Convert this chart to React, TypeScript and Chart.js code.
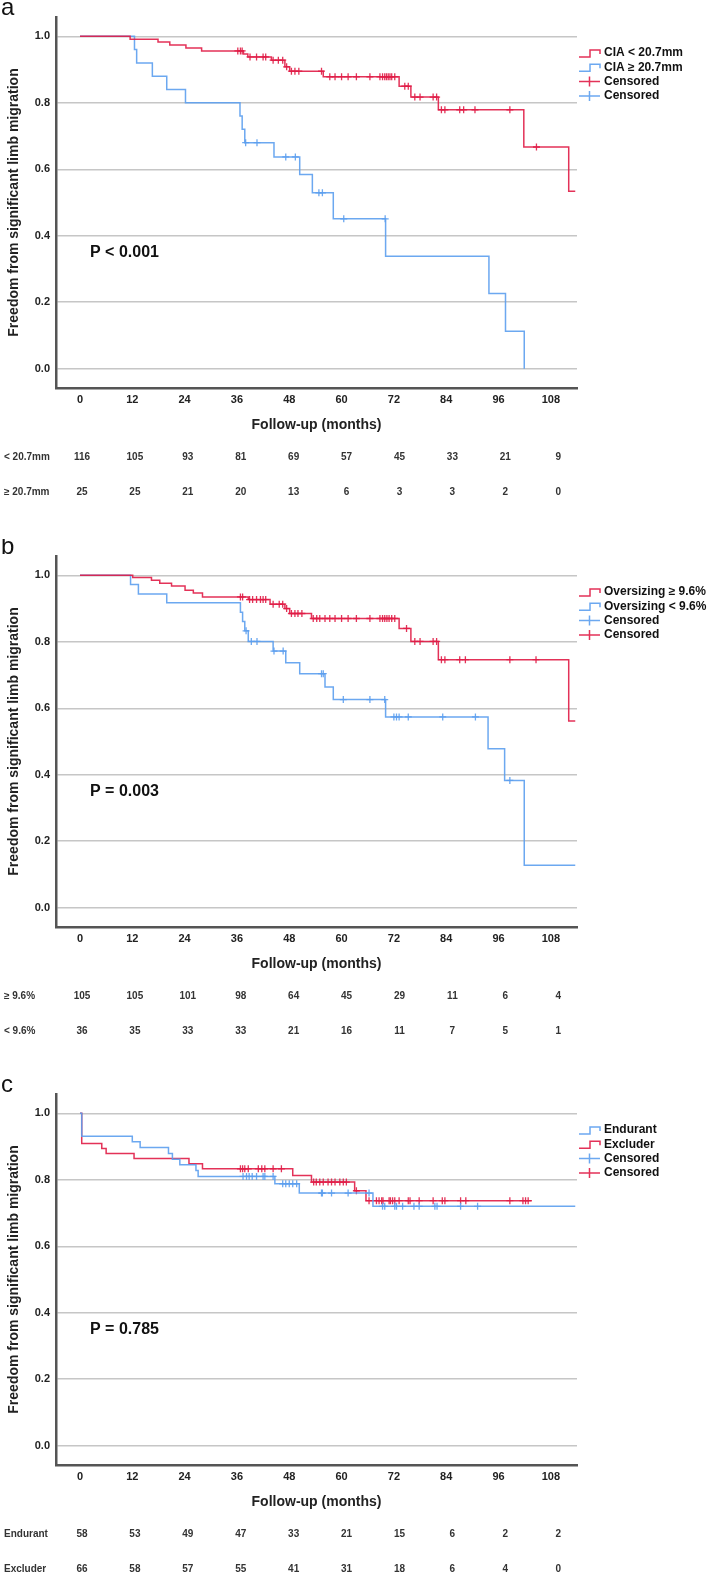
import React, { useEffect, useRef } from "react";
import { Chart, registerables } from "chart.js";

Chart.register(...registerables);

const FONT = "'Liberation Sans', Arial, Helvetica, sans-serif";
const RED = "rgba(224, 28, 70, 0.9)";
const BLUE = "rgba(92, 158, 238, 0.9)";

const xTicks = [0, 12, 24, 36, 48, 60, 72, 84, 96, 108];
const yTicks = [0, 0.2, 0.4, 0.6, 0.8, 1.0];
const xTitle = "Follow-up (months)";
const yTitle = "Freedom from significant limb migration";

// ---------- Panel a ----------
const aLabels = ["CIA < 20.7mm", "CIA \u2265 20.7mm"];
const aRiskLabels = ["< 20.7mm", "\u2265 20.7mm"];
const aRiskRed = [116, 105, 93, 81, 69, 57, 45, 33, 21, 9];
const aRiskBlue = [25, 25, 21, 20, 13, 6, 3, 3, 2, 0];
const aRedSteps: [number, number][] = [
  [0, 1], [11.5, 0.991], [17.9, 0.983], [20.6, 0.974], [24.3, 0.965], [27.9, 0.956],
  [37.5, 0.947], [38.5, 0.938], [43.9, 0.928], [47.0, 0.908], [48.1, 0.895], [55.8, 0.878],
  [73.2, 0.85], [75.9, 0.817], [82.2, 0.779], [101.8, 0.667], [112.1, 0.534], [113.6, 0.534],
];
const aRedCensored: [number, number][] = [
  [36.2, 0.956], [36.8, 0.956], [37.2, 0.956],
  [39.0, 0.938], [40.5, 0.938], [42.0, 0.938], [42.6, 0.938],
  [44.3, 0.928], [45.5, 0.928], [46.5, 0.928], [47.4, 0.908],
  [48.5, 0.895], [49.3, 0.895], [50.2, 0.895], [55.4, 0.895],
  [57.3, 0.878], [58.5, 0.878], [60.0, 0.878], [61.5, 0.878], [63.4, 0.878], [66.5, 0.878],
  [68.8, 0.878], [69.4, 0.878], [69.9, 0.878], [70.3, 0.878], [70.7, 0.878], [71.1, 0.878],
  [71.5, 0.878], [72.2, 0.878],
  [74.5, 0.85], [75.3, 0.85],
  [76.8, 0.817], [78.0, 0.817], [81.0, 0.817], [81.8, 0.817],
  [82.9, 0.779], [83.7, 0.779], [87.1, 0.779], [88.0, 0.779], [90.6, 0.779], [98.6, 0.779],
  [104.7, 0.667],
];
const aBlueSteps: [number, number][] = [
  [0, 1], [12.5, 0.96], [13.0, 0.92], [16.6, 0.88], [19.9, 0.84], [24.2, 0.8],
  [36.7, 0.76], [37.2, 0.72], [37.8, 0.68], [44.5, 0.637], [50.4, 0.584], [53.3, 0.529],
  [58.1, 0.451], [70.1, 0.338], [93.8, 0.226], [97.6, 0.113], [101.9, 0.0],
];
const aBlueCensored: [number, number][] = [
  [38.0, 0.68], [40.6, 0.68], [47.2, 0.637], [49.4, 0.637], [54.8, 0.529], [55.6, 0.529],
  [60.5, 0.451], [70.0, 0.451],
];

// ---------- Panel b ----------
const bLabels = ["Oversizing \u2265 9.6%", "Oversizing < 9.6%"];
const bRiskLabels = ["\u2265 9.6%", "< 9.6%"];
const bRiskRed = [105, 105, 101, 98, 64, 45, 29, 11, 6, 4];
const bRiskBlue = [36, 35, 33, 33, 21, 16, 11, 7, 5, 1];
const bRedSteps: [number, number][] = [
  [0, 1], [12.1, 0.993], [16.4, 0.985], [18.3, 0.976], [21.0, 0.968], [24.1, 0.955],
  [26.0, 0.947], [28.1, 0.935], [38.6, 0.927], [43.6, 0.913], [47.0, 0.9], [48.1, 0.885],
  [53.1, 0.87], [73.2, 0.84], [75.9, 0.801], [82.2, 0.746], [112.1, 0.562], [113.6, 0.562],
];
const bRedCensored: [number, number][] = [
  [36.8, 0.935], [37.3, 0.935],
  [38.9, 0.927], [39.6, 0.927], [40.5, 0.927], [41.4, 0.927], [42.0, 0.927], [42.6, 0.927],
  [44.3, 0.913], [45.7, 0.913], [46.5, 0.913], [47.4, 0.9],
  [48.5, 0.885], [49.3, 0.885], [50.0, 0.885], [50.9, 0.885],
  [53.5, 0.87], [54.3, 0.87], [55.0, 0.87], [56.2, 0.87], [57.3, 0.87], [58.5, 0.87],
  [60.0, 0.87], [61.5, 0.87], [63.4, 0.87], [66.5, 0.87], [68.8, 0.87], [69.4, 0.87],
  [69.9, 0.87], [70.4, 0.87], [70.9, 0.87], [71.5, 0.87], [72.2, 0.87],
  [74.9, 0.84],
  [76.8, 0.801], [78.0, 0.801], [81.0, 0.801], [81.8, 0.801],
  [82.9, 0.746], [83.7, 0.746], [87.1, 0.746], [88.4, 0.746], [98.6, 0.746], [104.6, 0.746],
];
const bBlueSteps: [number, number][] = [
  [0, 1], [11.6, 0.972], [13.4, 0.944], [19.9, 0.917], [36.8, 0.889], [37.3, 0.861],
  [37.8, 0.833], [38.6, 0.801], [44.3, 0.772], [47.2, 0.737], [50.4, 0.704], [56.2, 0.664],
  [58.1, 0.626], [70.1, 0.574], [93.6, 0.478], [97.4, 0.383], [101.9, 0.128], [113.6, 0.128],
];
const bBlueCensored: [number, number][] = [
  [38.1, 0.833], [39.3, 0.801], [40.6, 0.801], [44.5, 0.772], [46.6, 0.772],
  [55.4, 0.704], [55.8, 0.704], [60.4, 0.626], [66.5, 0.626], [69.9, 0.626],
  [72.0, 0.574], [72.6, 0.574], [73.2, 0.574], [75.3, 0.574], [83.2, 0.574], [90.7, 0.574],
  [98.6, 0.383],
];

// ---------- Panel c ----------
const cLabels = ["Endurant", "Excluder"];
const cRiskLabels = ["Endurant", "Excluder"];
const cRiskBlue = [58, 53, 49, 47, 33, 21, 15, 6, 2, 2];
const cRiskRed = [66, 58, 57, 55, 41, 31, 18, 6, 4, 0];
const cBlueSteps: [number, number][] = [
  [0, 1], [0.4, 0.931], [12.0, 0.914], [13.8, 0.897], [20.3, 0.879], [21.2, 0.862],
  [22.9, 0.845], [26.6, 0.828], [27.1, 0.81], [44.7, 0.788], [50.3, 0.76], [67.2, 0.72],
  [113.6, 0.72],
];
const cBlueCensored: [number, number][] = [
  [37.4, 0.81], [38.2, 0.81], [38.8, 0.81], [39.5, 0.81], [40.5, 0.81], [42.0, 0.81],
  [42.4, 0.81], [44.3, 0.81],
  [46.5, 0.788], [47.2, 0.788], [48.0, 0.788], [48.8, 0.788], [49.7, 0.788],
  [55.4, 0.76], [55.6, 0.76], [57.7, 0.76], [61.5, 0.76], [66.3, 0.76],
  [69.4, 0.72], [69.9, 0.72], [72.2, 0.72], [72.6, 0.72], [74.0, 0.72], [76.6, 0.72],
  [77.8, 0.72], [81.4, 0.72], [81.9, 0.72], [87.3, 0.72], [91.2, 0.72],
];
const cRedSteps: [number, number][] = [
  [0, 1], [0.4, 0.909], [5.0, 0.894], [6.0, 0.879], [12.4, 0.864], [25.0, 0.848],
  [28.1, 0.833], [48.8, 0.813], [53.1, 0.793], [63.0, 0.767], [65.6, 0.737], [103.6, 0.737],
];
const cRedCensored: [number, number][] = [
  [36.8, 0.833], [37.3, 0.833], [37.8, 0.833], [38.6, 0.833], [40.9, 0.833], [41.7, 0.833],
  [42.4, 0.833], [44.3, 0.833], [46.2, 0.833],
  [53.6, 0.793], [54.2, 0.793], [55.0, 0.793], [55.8, 0.793], [56.9, 0.793], [57.7, 0.793],
  [58.5, 0.793], [59.6, 0.793], [60.4, 0.793], [61.1, 0.793],
  [63.4, 0.767],
  [66.3, 0.737], [68.0, 0.737], [68.6, 0.737], [69.2, 0.737], [69.5, 0.737], [70.9, 0.737],
  [71.2, 0.737], [71.7, 0.737], [72.2, 0.737], [73.2, 0.737], [75.3, 0.737], [75.7, 0.737],
  [77.8, 0.737], [81.0, 0.737], [83.1, 0.737], [83.7, 0.737], [87.3, 0.737], [88.5, 0.737],
  [98.6, 0.737], [101.6, 0.737], [102.2, 0.737], [102.8, 0.737],
];

type Curve = { steps: [number, number][]; censored: [number, number][]; color: string };
type LegendItem = { kind: "line" | "cens"; color: string; text: string };
type PanelSpec = {
  letter: string;
  pText: string;
  curves: Curve[];
  legend: LegendItem[];
  riskLabels: string[];
  risk: number[][];
  height: number;
};

const panels: PanelSpec[] = [
  {
    letter: "a",
    pText: "P < 0.001",
    curves: [
      { steps: aRedSteps, censored: aRedCensored, color: RED },
      { steps: aBlueSteps, censored: aBlueCensored, color: BLUE },
    ],
    legend: [
      { kind: "line", color: RED, text: aLabels[0] },
      { kind: "line", color: BLUE, text: aLabels[1] },
      { kind: "cens", color: RED, text: "Censored" },
      { kind: "cens", color: BLUE, text: "Censored" },
    ],
    riskLabels: aRiskLabels,
    risk: [aRiskRed, aRiskBlue],
    height: 539,
  },
  {
    letter: "b",
    pText: "P = 0.003",
    curves: [
      { steps: bRedSteps, censored: bRedCensored, color: RED },
      { steps: bBlueSteps, censored: bBlueCensored, color: BLUE },
    ],
    legend: [
      { kind: "line", color: RED, text: bLabels[0] },
      { kind: "line", color: BLUE, text: bLabels[1] },
      { kind: "cens", color: BLUE, text: "Censored" },
      { kind: "cens", color: RED, text: "Censored" },
    ],
    riskLabels: bRiskLabels,
    risk: [bRiskRed, bRiskBlue],
    height: 538,
  },
  {
    letter: "c",
    pText: "P = 0.785",
    curves: [
      { steps: cBlueSteps, censored: cBlueCensored, color: BLUE },
      { steps: cRedSteps, censored: cRedCensored, color: RED },
    ],
    legend: [
      { kind: "line", color: BLUE, text: cLabels[0] },
      { kind: "line", color: RED, text: cLabels[1] },
      { kind: "cens", color: BLUE, text: "Censored" },
      { kind: "cens", color: RED, text: "Censored" },
    ],
    riskLabels: cRiskLabels,
    risk: [cRiskBlue, cRiskRed],
    height: 498,
  },
];

const PANEL_TOPS = [0, 539, 1077];

function overlayPlugin(p: PanelSpec) {
  return {
    id: "overlay",
    afterDraw(chart: any) {
      const ctx: CanvasRenderingContext2D = chart.ctx;
      const { left, right, top, bottom } = chart.chartArea;
      const xs = chart.scales.x;
      const ys = chart.scales.y;
      ctx.save();
      // panel letter
      ctx.fillStyle = "#111";
      ctx.font = `24px ${FONT}`;
      ctx.textAlign = "left";
      ctx.textBaseline = "alphabetic";
      ctx.fillText(p.letter, 1, 15);
      // y title
      ctx.save();
      ctx.translate(14, (top + bottom) / 2);
      ctx.rotate(-Math.PI / 2);
      ctx.font = `bold 14px ${FONT}`;
      ctx.fillStyle = "#222";
      ctx.textAlign = "center";
      ctx.textBaseline = "middle";
      ctx.fillText(yTitle, 0, 0);
      ctx.restore();
      // x title
      ctx.font = `bold 14px ${FONT}`;
      ctx.fillStyle = "#222";
      ctx.textAlign = "center";
      ctx.textBaseline = "middle";
      ctx.fillText(xTitle, (left + right) / 2, bottom + 37);
      // P value
      ctx.font = `bold 16px ${FONT}`;
      ctx.fillStyle = "#111";
      ctx.textAlign = "left";
      ctx.fillText(p.pText, left + 34, ys.getPixelForValue(0.35));
      // legend
      const lx = right + 2;
      p.legend.forEach((it, i) => {
        const y = top + 36 + i * 14.3;
        ctx.strokeStyle = it.color;
        ctx.lineWidth = 1.5;
        ctx.beginPath();
        if (it.kind === "line") {
          ctx.moveTo(lx, y + 4);
          ctx.lineTo(lx + 11, y + 4);
          ctx.lineTo(lx + 11, y - 3);
          ctx.lineTo(lx + 21, y - 3);
          ctx.lineTo(lx + 21, y + 1);
        } else {
          ctx.moveTo(lx, y);
          ctx.lineTo(lx + 21, y);
          ctx.moveTo(lx + 10.5, y - 5);
          ctx.lineTo(lx + 10.5, y + 5);
        }
        ctx.stroke();
        ctx.font = `bold 12px ${FONT}`;
        ctx.fillStyle = "#111";
        ctx.textAlign = "left";
        ctx.textBaseline = "middle";
        ctx.fillText(it.text, lx + 25, y);
      });
      // risk table
      ctx.font = `bold 10px ${FONT}`;
      ctx.fillStyle = "#333";
      ctx.textBaseline = "middle";
      const rowYs = [bottom + 69, bottom + 104];
      p.risk.forEach((row, r) => {
        ctx.textAlign = "left";
        ctx.fillText(p.riskLabels[r], 4, rowYs[r]);
        ctx.textAlign = "center";
        row.forEach((n, i) => {
          const x = xs.getPixelForValue(xTicks[i]) + 2 + i * 0.6;
          ctx.fillText(String(n), x, rowYs[r]);
        });
      });
      ctx.restore();
    },
  };
}

function Panel({ spec, top }: { spec: PanelSpec; top: number }) {
  const ref = useRef<HTMLCanvasElement | null>(null);
  useEffect(() => {
    if (!ref.current) return;
    const datasets: any[] = [];
    spec.curves.forEach((c) => {
      datasets.push({
        data: c.steps.map(([x, y]) => ({ x, y })),
        borderColor: c.color,
        borderWidth: 1.5,
        pointRadius: 0,
        stepped: true,
        fill: false,
      });
      datasets.push({
        data: c.censored.map(([x, y]) => ({ x, y })),
        showLine: false,
        pointStyle: "cross",
        pointRadius: 3.5,
        pointBorderWidth: 1.3,
        pointBorderColor: c.color,
        pointBackgroundColor: c.color,
        borderColor: c.color,
      });
    });
    const chart = new Chart(ref.current, {
      type: "line",
      data: { datasets },
      options: {
        animation: false,
        responsive: false,
        maintainAspectRatio: false,
        layout: { padding: { top: 17, right: 130, left: 0, bottom: spec.height - 418 } },
        plugins: { legend: { display: false }, tooltip: { enabled: false } },
        scales: {
          x: {
            type: "linear",
            min: -5.5,
            max: 114,
            afterBuildTicks: (s: any) => {
              s.ticks = xTicks.map((v) => ({ value: v }));
            },
            afterFit: (s: any) => {
              s.height = 30;
            },
            grid: { display: false, drawTicks: false },
            border: { display: true, color: "#555", width: 2.5 },
            ticks: {
              autoSkip: false,
              maxRotation: 0,
              padding: 5,
              color: "#222",
              font: { family: FONT, size: 11, weight: "bold" },
            },
          },
          y: {
            type: "linear",
            min: -0.058,
            max: 1.058,
            afterBuildTicks: (s: any) => {
              s.ticks = yTicks.map((v) => ({ value: v }));
            },
            afterFit: (s: any) => {
              s.width = 56;
            },
            grid: { color: "#c6c6c6", lineWidth: 1.5, drawTicks: false },
            border: { display: true, color: "#555", width: 2.5 },
            ticks: {
              padding: 6,
              color: "#222",
              font: { family: FONT, size: 11, weight: "bold" },
              callback: (v: any) => Number(v).toFixed(1),
            },
          },
        },
      } as any,
      plugins: [overlayPlugin(spec)],
    });
    return () => chart.destroy();
  }, [spec]);
  return (
    <canvas
      ref={ref}
      width={707}
      height={spec.height}
      style={{ position: "absolute", left: 0, top, width: 707, height: spec.height, display: "block" }}
    />
  );
}

export default function App() {
  return (
    <div style={{ position: "absolute", left: 0, top: 0, width: 707, height: 1575, background: "#fff" }}>
      {panels.map((p, i) => (
        <Panel key={p.letter} spec={p} top={PANEL_TOPS[i]} />
      ))}
    </div>
  );
}
